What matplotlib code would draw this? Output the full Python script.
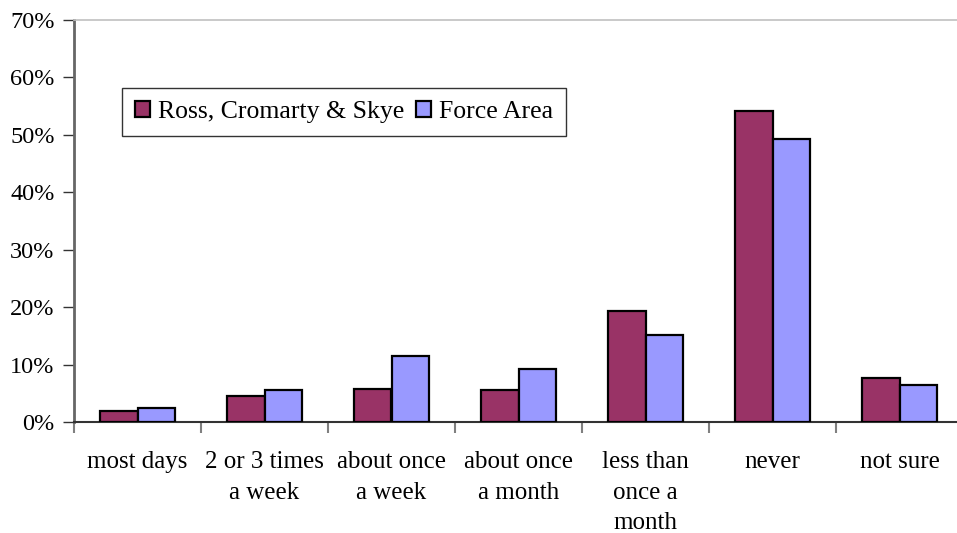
import matplotlib
matplotlib.use("Agg")
import matplotlib.pyplot as plt
import numpy as np
from matplotlib.ticker import FuncFormatter, MultipleLocator

categories = ["most days", "2 or 3 times\na week", "about once\na week", "about once\na month",
              "less than\nonce a\nmonth", "never", "not sure"]
ross = [2.0, 4.5, 5.8, 5.5, 19.4, 54.2, 7.6]
force = [2.4, 5.5, 11.5, 9.3, 15.2, 49.3, 6.5]
series_names = ["Ross, Cromarty & Skye", "Force Area"]

plt.rcParams['font.family'] = ['Liberation Serif', 'DejaVu Serif']

W, H = 957, 533
fig = plt.figure(figsize=(W/100, H/100), dpi=100)
left, right, bottom, top = 74, 963, 422, 20
ax = fig.add_axes([left/W, 1-bottom/H, (right-left)/W, (bottom-top)/H])

x = np.arange(len(categories))
bw = 0.295
ax.bar(x - bw/2, ross, bw, color="#993366", edgecolor="black", linewidth=1.6, label=series_names[0], zorder=3)
ax.bar(x + bw/2, force, bw, color="#9999FF", edgecolor="black", linewidth=1.6, label=series_names[1], zorder=3)

ax.set_xlim(-0.5, len(categories) - 0.5)
ax.set_ylim(0, 70)
ax.yaxis.set_major_locator(MultipleLocator(10))
ax.yaxis.set_major_formatter(FuncFormatter(lambda v, p: f"{v:.0f}%"))

ax.set_xticks(np.arange(len(categories) + 1) - 0.5)
ax.set_xticklabels([])
ax.set_xticks(x, minor=True)
ax.set_xticklabels(categories, minor=True, fontsize=18, linespacing=1.5, va="top")
ax.tick_params(axis="x", which="minor", length=0, pad=21)
ax.tick_params(axis="x", which="major", length=8, color="#808080", width=1.5, direction="out")
ax.tick_params(axis="y", length=8, color="#333333", width=1, labelsize=17.5, pad=6, direction="out")

ax.spines["right"].set_visible(False)
ax.spines["top"].set_color("#C0C0C0")
ax.spines["top"].set_linewidth(1.2)
ax.spines["left"].set_color("#666666")
ax.spines["left"].set_linewidth(2)
ax.spines["bottom"].set_color("#333333")
ax.spines["bottom"].set_linewidth(1.5)

leg = ax.legend(loc="upper left", bbox_to_anchor=((122-left)/(right-left), (bottom-88)/(bottom-top)),
                ncol=2, fontsize=18.5, frameon=True, fancybox=False, borderpad=0.5,
                handlelength=0.58, handleheight=0.58, handletextpad=0.32, columnspacing=0.45,
                borderaxespad=0)
leg.get_frame().set_edgecolor("black")
leg.get_frame().set_linewidth(1.0)

fig.savefig("out.png", dpi=100)
